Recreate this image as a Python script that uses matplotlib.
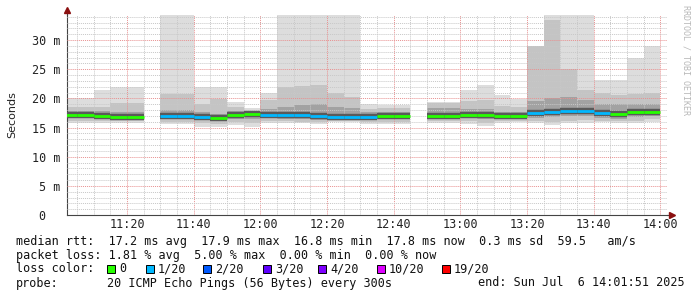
import matplotlib
matplotlib.use("Agg")
import matplotlib.pyplot as plt
import matplotlib.dates as mdates
from matplotlib.patches import Rectangle
from datetime import datetime, timedelta
import numpy as np

# 5-minute bins (start times), values in ms; None = no data
bin_start = ["11:00", "11:05", "11:10", "11:15", "11:20", "11:25", "11:30", "11:35", "11:40",
             "11:45", "11:50", "11:55", "12:00", "12:05", "12:10", "12:15", "12:20", "12:25",
             "12:30", "12:35", "12:40", "12:45", "12:50", "12:55", "13:00", "13:05", "13:10",
             "13:15", "13:20", "13:25", "13:30", "13:35", "13:40", "13:45", "13:50", "13:55"]
median = [17.15, 17.15, 17.0, 16.8, 16.8, None, 17.0, 17.0, 16.8, 16.7, 17.15, 17.25, 17.15, 17.1,
          17.1, 17.0, 16.85, 16.85, 16.85, 16.95, 16.95, None, 17.0, 17.0, 17.15, 17.15, 17.0,
          16.9, 17.45, 17.65, 17.8, 17.9, 17.45, 17.3, 17.65, 17.7]
loss = [0, 0, 0, 0, 0, None, 1, 1, 1, 0, 0, 0, 1, 1, 1, 1, 1, 1, 1, 0, 0, None, 0, 0, 0, 0, 0,
        0, 1, 1, 1, 1, 1, 0, 0, 0]
ping_max = [20.1, 20.1, 21.5, 22.0, 22.0, None, 40, 40, 21.9, 21.9, 19.4, 18.3, 20.9, 40, 40, 40,
            40, 40, 19.0, 18.9, 18.9, None, 19.4, 19.4, 21.4, 22.3, 20.6, 19.9, 29.0, 40, 40, 40,
            23.1, 23.1, 27.0, 28.9]
ping_hi2 = [18.6, 18.6, 18.5, 19.2, 19.2, None, 20.7, 20.7, 19.1, 19.9, 18.5, 17.9, 19.8, 21.9,
            22.1, 22.3, 21.0, 20.3, 18.2, 18.3, 18.3, None, 19.2, 19.2, 19.6, 19.7, 18.7, 18.5,
            28.9, 33.4, 25.0, 21.4, 21.0, 20.5, 20.8, 21.0]
ping_hi3 = [17.9, 17.9, 17.8, 17.7, 17.7, None, 18.0, 18.0, 17.6, 17.4, 17.8, 17.6, 18.2, 18.6,
            18.8, 19.0, 18.5, 18.3, 17.6, 17.6, 17.6, None, 18.4, 18.4, 18.2, 18.1, 17.7, 17.6,
            19.5, 20.0, 20.3, 19.8, 19.0, 19.0, 19.0, 19.0]
ping_lo3 = [16.6, 16.6, 16.5, 16.4, 16.4, None, 16.4, 16.4, 16.3, 16.2, 16.5, 16.5, 16.6, 16.5,
            16.4, 16.3, 16.5, 16.5, 16.3, 16.5, 16.5, None, 16.5, 16.5, 16.6, 16.5, 16.5, 16.4,
            16.6, 16.8, 16.9, 17.0, 16.6, 16.5, 16.8, 16.9]
ping_lo2 = [16.2, 16.2, 16.1, 16.1, 16.1, None, 16.0, 16.0, 15.7, 15.6, 16.0, 15.8, 16.1, 16.2,
            16.0, 15.9, 16.2, 16.2, 15.9, 16.0, 16.0, None, 16.2, 16.2, 16.1, 15.8, 16.1, 16.2,
            16.1, 16.0, 16.2, 16.3, 16.2, 16.1, 16.2, 16.4]
ping_min = [15.8, 15.8, 15.7, 15.7, 15.7, None, 15.55, 15.55, 15.1, 15.1, 15.4, 15.15, 15.7, 15.8,
            15.7, 15.6, 16.0, 16.0, 15.6, 15.6, 15.6, None, 15.8, 15.8, 15.6, 15.3, 15.7, 16.0,
            15.7, 15.5, 15.8, 15.8, 16.0, 15.7, 15.7, 16.0]

loss_colors = {0: "#26ff00", 1: "#00b8ff", 2: "#0059ff", 3: "#5e00ff", 4: "#7e00ff",
               10: "#dd00ff", 19: "#ff0000"}
loss_labels = ["0", "1/20", "2/20", "3/20", "4/20", "10/20", "19/20"]

day = datetime(2025, 7, 6)
starts = [day + timedelta(hours=int(s[:2]), minutes=int(s[3:])) for s in bin_start]
x = mdates.date2num(starts)
width = 5 / 1440.0
ok = np.array([m is not None for m in median])

def arr(v):
    return np.array([np.nan if a is None else a for a in v], dtype=float)

mono = "DejaVu Sans Mono"
fig = plt.figure(figsize=(6.97, 2.97), dpi=100)
W, H = 697.0, 297.0
ax = fig.add_axes([67 / W, 1 - 215 / H, 600 / W, 200 / H])

bands = [(ping_min, ping_max, "#dddddd"),
         (ping_lo2, ping_hi2, "#c4c4c4"),
         (ping_lo3, ping_hi3, "#a2a2a2")]
for lo, hi, col in bands:
    lo_a, hi_a = arr(lo), arr(hi)
    ax.bar(x[ok], hi_a[ok] - lo_a[ok], bottom=lo_a[ok], width=width, align="edge",
           color=col, linewidth=0, antialiased=False, zorder=1)

# dark core around the median, then the loss-coloured median line
for xi, m, l in zip(x, median, loss):
    if m is None:
        continue
    ax.hlines(m, xi, xi + width, colors="#5a5a5a", linewidth=4.6, zorder=2.8)
    ax.hlines(m, xi, xi + width, colors=loss_colors[l], linewidth=2.0, zorder=3)

t0 = day + timedelta(hours=11, minutes=2)
t1 = day + timedelta(hours=14, minutes=2)
ax.set_xlim(t0, t1)
ax.set_ylim(0, 34.3)

ax.xaxis.set_major_locator(mdates.MinuteLocator(byminute=[0, 20, 40]))
ax.xaxis.set_minor_locator(mdates.MinuteLocator(byminute=range(0, 60, 5)))
ax.xaxis.set_major_formatter(mdates.DateFormatter("%H:%M"))
ax.set_yticks([0, 5, 10, 15, 20, 25, 30])
ax.set_yticklabels(["0  ", "5 m", "10 m", "15 m", "20 m", "25 m", "30 m"])
ax.set_yticks(np.arange(0, 35, 1), minor=True)

ax.set_axisbelow(False)
ax.grid(True, which="minor", color="#c8c8c8", linestyle=(0, (1, 1)), linewidth=0.7)
ax.grid(True, which="major", color="#e89090", linestyle=(0, (1, 1)), linewidth=0.7)
ax.tick_params(which="both", length=0, labelsize=8.5)
ax.tick_params(axis="y", pad=5)
ax.tick_params(axis="x", pad=2.5)
for lab in ax.get_xticklabels() + ax.get_yticklabels():
    lab.set_fontfamily(mono)
    lab.set_color("#222222")

for s in ["top", "right"]:
    ax.spines[s].set_visible(False)
for s in ["left", "bottom"]:
    ax.spines[s].set_color("#444444")
    ax.spines[s].set_linewidth(0.8)
ax.plot([0, 0], [1, 1.02], transform=ax.transAxes, color="#444444", lw=0.8, clip_on=False)
ax.plot([1, 1.008], [0, 0], transform=ax.transAxes, color="#444444", lw=0.8, clip_on=False)
ax.plot([0], [1.025], transform=ax.transAxes, marker="^", color="#8b1010", ms=4, clip_on=False)
ax.plot([1.009], [0], transform=ax.transAxes, marker=">", color="#8b1010", ms=4, clip_on=False)

ax.set_ylabel("Seconds", fontsize=8, color="#222222")
ax.yaxis.set_label_coords(-(67 - 17) / 600.0, 0.5)

fig.text(686 / W, 1 - 5 / H, "RRDTOOL / TOBI OETIKER", rotation=270, ha="center", va="top",
         fontsize=6, family=mono, color="#b8b8b8")

fs = 8.5
tc = "#111111"
fig.text(16 / W, 1 - 241 / H, "median rtt:  17.2 ms avg  17.9 ms max  16.8 ms min  "
         "17.8 ms now  0.3 ms sd  59.5   am/s", family=mono, fontsize=fs, va="center", color=tc)
fig.text(16 / W, 1 - 255 / H, "packet loss: 1.81 % avg  5.00 % max  0.00 % min  0.00 % now",
         family=mono, fontsize=fs, va="center", color=tc)
fig.text(16 / W, 1 - 269 / H, "loss color:", family=mono, fontsize=fs, va="center", color=tc)
sq_x = [107, 146, 203, 263, 318, 377, 442]
for sx, key, lab in zip(sq_x, [0, 1, 2, 3, 4, 10, 19], loss_labels):
    fig.patches.append(Rectangle((sx / W, 1 - 273 / H), 8 / W, 8 / H, transform=fig.transFigure,
                                 facecolor=loss_colors[key], edgecolor="black", linewidth=0.7))
    fig.text((sx + 12) / W, 1 - 269 / H, lab, family=mono, fontsize=fs, va="center", color=tc)
fig.text(16 / W, 1 - 283 / H, "probe:", family=mono, fontsize=fs, va="center", color=tc)
fig.text(107 / W, 1 - 283 / H, "20 ICMP Echo Pings (56 Bytes) every 300s", family=mono,
         fontsize=fs, va="center", color=tc)
fig.text(478 / W, 1 - 283 / H, "end: Sun Jul  6 14:01:51 2025", family=mono, fontsize=fs,
         va="center", color=tc)

fig.savefig("out.png", dpi=100, facecolor="white")
